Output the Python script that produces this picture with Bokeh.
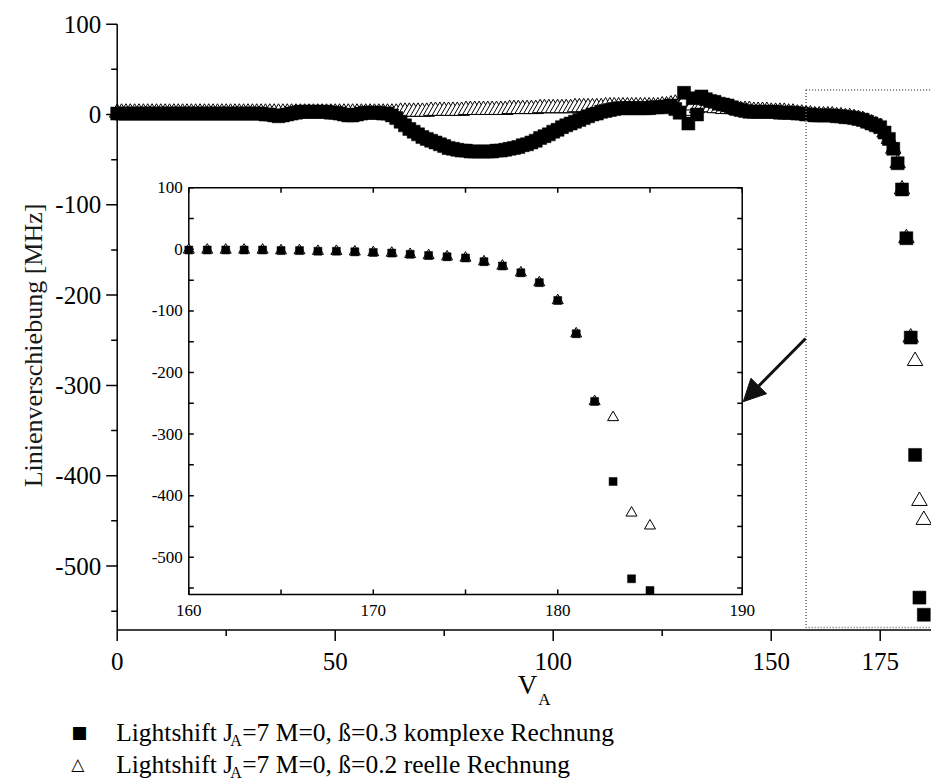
import math
from bokeh.plotting import figure
from bokeh.models import Range1d, Arrow, NormalHead
from bokeh.core.properties import value
from bokeh.embed import file_html
from bokeh.resources import INLINE

# ---------------- data ----------------
v_a = list(range(0, 186))

shift_komplex = [
    1, 1, 1, 1, 1, 1, 1, 1, 1, 1,
    1, 1, 1, 1, 1, 1, 1, 1, 1, 1,
    1, 1, 1, 1, 1, 1, 1, 1, 1, 1,
    1, 1, 1, 1, 0, 0, -1, -2, -1, 0,
    1, 2, 3, 3, 3, 3, 3, 3, 3, 2,
    2, 1, 0, -1, -1, 0, 1, 2, 2, 2,
    2, 1, 1, -1, -4, -8, -12, -16, -19, -22,
    -25, -27, -29, -31, -33, -35, -37, -38, -39, -40,
    -40, -41, -41, -41, -41, -41, -41, -40, -40, -39,
    -38, -37, -36, -34, -33, -31, -29, -26, -24, -22,
    -19, -17, -14, -12, -10, -8, -6, -4, -2, 0,
    1, 3, 4, 5, 6, 7, 7, 7, 7, 7,
    7, 7, 7, 8, 8, 8, 9, 10, 6, 2,
    24, -10, 18, 0, 20, 17, 15, 14, 12, 11,
    10, 8, 6, 5, 4, 3, 3, 3, 3, 3,
    3, 3, 2, 2, 2, 2, 1, 1, 0, 0,
    -1, -1, -1, -1, -1, -2, -2, -3, -3, -4,
    -5, -6, -8, -10, -12, -14, -20, -27, -38, -54,
    -83, -137, -247, -377, -535, -554,
]

shift_reell = [
    2, 2, 2, 2, 2, 2, 2, 2, 2, 2,
    2, 2, 2, 2, 2, 2, 2, 2, 2, 2,
    2, 2, 2, 2, 2, 2, 2, 2, 2, 2,
    2, 2, 2, 2, 2, 2, 2, 2, 2, 2,
    2, 2, 2, 2, 2, 2, 2, 2, 2, 2,
    2, 2, 2, 2, 2, 2, 2, 2, 2, 2,
    2, 2, 2, 2, 2, 3, 3, 3, 3, 3,
    3, 3, 4, 4, 4, 4, 4, 4, 4, 4,
    5, 5, 5, 5, 5, 5, 5, 5, 5, 5,
    6, 6, 6, 6, 6, 6, 6, 7, 7, 7,
    7, 7, 7, 7, 7, 8, 8, 8, 8, 8,
    8, 8, 9, 9, 9, 9, 9, 9, 9, 9,
    9, 9, 9, 9, 9, 10, 10, 11, 12, 7,
    14, 4, 10, 7, 9, 8, 8, 7, 7, 6,
    6, 6, 5, 5, 5, 5, 4, 4, 4, 4,
    3, 3, 3, 3, 2, 2, 1, 1, 0, 0,
    -1, -1, -1, -1, -1, -2, -2, -3, -3, -4,
    -5, -6, -8, -10, -12, -14, -20, -27, -38, -54,
    -83, -137, -247, -273, -428, -449,
]

x_major = [0, 50, 100, 150, 175]
x_minor = [25, 75, 125]
y_major = [100, 0, -100, -200, -300, -400, -500]
y_minor = [50, -50, -150, -250, -350, -450, -550]

inset_first = 160
inset_v = v_a[inset_first:]
inset_komplex = shift_komplex[inset_first:]
inset_reell = shift_reell[inset_first:]
inset_x_major = [160, 170, 180, 190]
inset_x_minor = [165, 175, 185]
inset_y_major = [100, 0, -100, -200, -300, -400, -500]
inset_y_minor = [50, -50, -150, -250, -350, -450, -550]

legend_symbols = ["\u25A0", "\u25B3"]
legend_head = ["Lightshift J", "Lightshift J"]
legend_sub = ["A", "A"]
legend_tail = ["=7 M=0, \u00DF=0.3 komplexe Rechnung", "=7 M=0, \u00DF=0.2 reelle Rechnung"]
y_label = "Linienverschiebung [MHz]"
x_label_main, x_label_sub = "V", "A"

FONT = "Liberation Serif"

# ---------------- coordinate systems (frame = whole canvas) ----------------
MAIN_X = (-26.766, 186.766)      # main axis: 0 .. ~186.8
MAIN_Y = (-740.86, 126.25)       # main axis: -571 .. 100
X_AXIS_AT = -571                 # bottom of the main y axis
Y_AXIS_TOP = 100
INSET_X = (149.792, 200.261)
INSET_Y = (-867.51, 404.21)
INSET_LEFT, INSET_RIGHT, INSET_BOTTOM, INSET_TOP = 160, 190, -560.5, 100

p = figure(width=931, height=783,
           x_range=Range1d(*MAIN_X), y_range=Range1d(*MAIN_Y),
           x_axis_type=None, y_axis_type=None,
           output_backend="svg", toolbar_location=None, min_border=0)
p.extra_x_ranges = {"ix": Range1d(*INSET_X)}
p.extra_y_ranges = {"iy": Range1d(*INSET_Y)}
p.outline_line_color = None
p.background_fill_color = "white"
p.border_fill_color = "white"

AX = dict(line_color="black", line_width=1.5)
TXT = dict(text_font=value(FONT), text_color="black")

# ---------------- main data ----------------
p.scatter(v_a, shift_reell, marker="triangle", size=15.5,
          fill_color="white", line_color="black", line_width=1)
p.scatter(v_a, shift_komplex, marker="square", size=13,
          fill_color="black", line_color="black", line_width=0.5)

# dotted zoom box
p.quad(left=[158], right=[200], bottom=[-568], top=[27],
       fill_color=None, line_color="#666666", line_width=1.5, line_dash="1 2")

# ---------------- main axes ----------------
p.segment(x0=[0], y0=[X_AXIS_AT], x1=[0], y1=[Y_AXIS_TOP], **AX)
p.segment(x0=[0], y0=[X_AXIS_AT], x1=[MAIN_X[1]], y1=[X_AXIS_AT], **AX)
p.ray(x=[0] * len(y_major), y=y_major, length=11, length_units="screen",
      angle=math.pi, **AX)
p.ray(x=[0] * len(y_minor), y=y_minor, length=6, length_units="screen",
      angle=math.pi, **AX)
p.ray(x=x_major, y=[X_AXIS_AT] * len(x_major), length=11, length_units="screen",
      angle=-math.pi / 2, **AX)
p.ray(x=x_minor, y=[X_AXIS_AT] * len(x_minor), length=6, length_units="screen",
      angle=-math.pi / 2, **AX)
p.text(x=[0] * len(y_major), y=y_major, text=[str(t) for t in y_major],
       x_offset=-16, text_align="right", text_baseline="middle",
       text_font_size="25px", **TXT)
p.text(x=x_major, y=[X_AXIS_AT] * len(x_major), text=[str(t) for t in x_major],
       y_offset=31, text_align="center", text_baseline="middle",
       text_font_size="25px", **TXT)
p.text(x=[0], y=[-255.8], text=[y_label], angle=math.pi / 2, x_offset=-84,
       text_align="center", text_baseline="alphabetic",
       text_font_size="26px", text_color="#1a1a1a", text_font=value(FONT))
x_mid = (0 + MAIN_X[1]) / 2
p.text(x=[x_mid], y=[X_AXIS_AT], text=[x_label_main], x_offset=13, y_offset=55,
       text_align="right", text_baseline="middle", text_font_size="27px", **TXT)
p.text(x=[x_mid], y=[X_AXIS_AT], text=[x_label_sub], x_offset=14, y_offset=69,
       text_align="left", text_baseline="middle", text_font_size="17px", **TXT)

# ---------------- legend ----------------
row_off = [102, 134]
for sym, head, sub, tail, dy in zip(legend_symbols, legend_head, legend_sub,
                                    legend_tail, row_off):
    p.text(x=[0], y=[X_AXIS_AT], text=[sym], x_offset=-46, y_offset=dy,
           text_align="left", text_baseline="middle", text_font_size="17px",
           text_font=value("DejaVu Sans"), text_color="black")
    p.text(x=[0], y=[X_AXIS_AT], text=[head], x_offset=-1, y_offset=dy,
           text_align="left", text_baseline="middle", text_font_size="25.5px", **TXT)
    p.text(x=[0], y=[X_AXIS_AT], text=[sub], x_offset=113, y_offset=dy + 8,
           text_align="left", text_baseline="middle", text_font_size="16px", **TXT)
    p.text(x=[0], y=[X_AXIS_AT], text=[tail], x_offset=125, y_offset=dy,
           text_align="left", text_baseline="middle", text_font_size="25.5px", **TXT)

# ---------------- inset ----------------
IR = dict(x_range_name="ix", y_range_name="iy")
p.quad(left=[INSET_LEFT], right=[INSET_RIGHT], bottom=[INSET_BOTTOM], top=[INSET_TOP],
       fill_color="white", **AX, **IR)
iy_ticks = inset_y_major + inset_y_minor
ix_ticks = inset_x_major + inset_x_minor
p.ray(x=[INSET_LEFT] * len(iy_ticks), y=iy_ticks, length=5, length_units="screen",
      angle=0, **AX, **IR)
p.ray(x=[INSET_RIGHT] * len(iy_ticks), y=iy_ticks, length=5, length_units="screen",
      angle=math.pi, **AX, **IR)
p.ray(x=ix_ticks, y=[INSET_BOTTOM] * len(ix_ticks), length=5, length_units="screen",
      angle=math.pi / 2, **AX, **IR)
p.ray(x=ix_ticks, y=[INSET_TOP] * len(ix_ticks), length=5, length_units="screen",
      angle=-math.pi / 2, **AX, **IR)
p.text(x=[INSET_LEFT] * len(inset_y_major), y=inset_y_major,
       text=[str(t) for t in inset_y_major], x_offset=-6, text_align="right",
       text_baseline="middle", text_font_size="17px", **TXT, **IR)
p.text(x=inset_x_major, y=[INSET_BOTTOM] * len(inset_x_major),
       text=[str(t) for t in inset_x_major], y_offset=16, text_align="center",
       text_baseline="middle", text_font_size="17px", **TXT, **IR)

p.scatter(inset_v, inset_reell, marker="triangle", size=11,
          fill_color="white", line_color="black", line_width=1, **IR)
p.scatter(inset_v, inset_komplex, marker="square", size=8,
          fill_color="black", line_color="black", line_width=0.5, **IR)

# arrow from the zoom box to the inset
p.add_layout(Arrow(end=NormalHead(size=22, fill_color="#111111", line_color="#111111"),
                   x_start=157.9, y_start=-248, x_end=143.6, y_end=-318,
                   line_width=3, line_color="#111111"))

open("out.html", "w").write(file_html(p, INLINE))
